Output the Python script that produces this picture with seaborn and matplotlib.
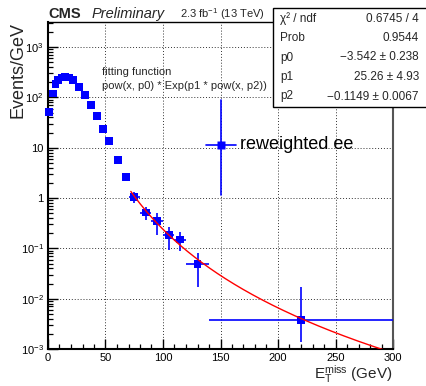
import numpy as np
import matplotlib
matplotlib.use("Agg")
import matplotlib.pyplot as plt
import matplotlib.ticker as mticker
from matplotlib.patches import Rectangle
import seaborn as sns
import pandas as pd

# ---------------- data ----------------
met_x = [0.5, 4, 6.5, 9, 12, 15, 18, 22, 27, 32.5, 37.5, 42.5, 47.5, 53, 60.5, 67.5,
         75, 85, 95, 105, 115, 130, 220]
events = [51, 120, 184, 221, 250, 252, 250, 221, 163, 113, 70, 42, 24, 13.5, 5.7, 2.63,
          1.06, 0.516, 0.347, 0.182, 0.150, 0.048, 0.0037]
x_err = [0] * 16 + [5, 5, 5, 5, 5, 10, 80]
y_err_low = [0] * 16 + [0.26, 0.15, 0.16, 0.09, 0.06, 0.031, 0.0023]
y_err_high = [0] * 16 + [0.27, 0.15, 0.16, 0.09, 0.063, 0.032, 0.013]

# fit parameters (from stat box)
p0, p1, p2 = -3.542, 25.26, -0.1149
fit_range = (72, 300)

stat_labels = ["χ² / ndf", "Prob", "p0", "p1", "p2"]
stat_values = ["0.6745 / 4", "0.9544", "−3.542 ± 0.238", "25.26 ± 4.93", "−0.1149 ± 0.0067"]

x_ticks = [0, 50, 100, 150, 200, 250, 300]

# ---------------- style ----------------
sns.set_theme(style="white")
plt.rcParams['font.family'] = ['Liberation Sans', 'DejaVu Sans']
plt.rcParams['mathtext.fontset'] = 'custom'
plt.rcParams['mathtext.rm'] = 'Liberation Sans'
plt.rcParams['mathtext.it'] = 'Liberation Sans:italic'
plt.rcParams['mathtext.bf'] = 'Liberation Sans:bold'

W, H = 427, 386
fig = plt.figure(figsize=(W / 100, H / 100), dpi=100)
fig.patch.set_facecolor('white')
L, R, T, B = 48, 393, 22, 349
ax = fig.add_axes([L / W, 1 - B / H, (R - L) / W, (B - T) / H])
ax.set_facecolor('white')

df = pd.DataFrame({"met": met_x, "ev": events})

ax.errorbar(met_x, events, xerr=x_err, yerr=[y_err_low, y_err_high], fmt='none',
            ecolor='blue', elinewidth=1.2, capsize=0, zorder=3, clip_on=False)
sns.scatterplot(data=df, x="met", y="ev", marker='s', s=32, color='blue',
                edgecolor='none', linewidth=0, ax=ax, zorder=4, clip_on=False)

xf = np.linspace(fit_range[0], fit_range[1], 300)
yf = np.power(xf, p0) * np.exp(p1 * np.power(xf, p2))
sns.lineplot(x=xf, y=yf, color='red', linewidth=1.0, ax=ax, zorder=5)

ax.set_yscale('log')
ax.set_xlim(0, 300)
ax.set_ylim(1e-3, 10 ** 3.5)
ax.set_xlabel('')
ax.set_ylabel('')

ax.xaxis.set_major_locator(mticker.FixedLocator(x_ticks))
ax.xaxis.set_minor_locator(mticker.MultipleLocator(10))
ax.yaxis.set_major_locator(mticker.LogLocator(base=10, numticks=20))
ax.yaxis.set_minor_locator(mticker.LogLocator(base=10, subs=np.arange(2, 10), numticks=20))


def yfmt(v, pos):
    e = int(round(np.log10(v)))
    if e == 0:
        return "1"
    if e == 1:
        return "10"
    return r"$10^{%d}$" % e


ax.yaxis.set_major_formatter(mticker.FuncFormatter(yfmt))
ax.yaxis.set_minor_formatter(mticker.NullFormatter())
ax.tick_params(axis='both', which='major', direction='in', length=7, width=1.0,
               labelsize=8, color='black', labelcolor='black',
               bottom=True, left=True, top=False, right=False)
ax.tick_params(axis='both', which='minor', direction='in', length=3.5, width=0.9,
               color='black', bottom=True, left=True, top=False, right=False)
ax.tick_params(axis='x', which='major', pad=3)
ax.tick_params(axis='y', which='major', pad=3)

ax.grid(True, which='major', linestyle=(0, (1, 2)), color='#333333', linewidth=0.7)
for s in ['left', 'bottom', 'top']:
    ax.spines[s].set_color('black')
    ax.spines[s].set_linewidth(1.5)
ax.spines['right'].set_color('#555555')
ax.spines['right'].set_linewidth(1.5)
ax.spines['top'].set_linewidth(1.0)

# legend-like symbol (axes coords)
lx, ly = 0.501, 0.624
ax.plot([lx - 0.0435, lx + 0.0435], [ly, ly], color='blue', lw=1.2, transform=ax.transAxes, zorder=6)
ax.plot([lx, lx], [0.471, 0.761], color='blue', lw=1.2, transform=ax.transAxes, zorder=6)
ax.plot([lx], [ly], marker='s', ms=5.6, color='blue', mec='none', transform=ax.transAxes, zorder=7)
ax.text(0.557, ly, 'reweighted ee', transform=ax.transAxes, fontsize=13,
        ha='left', va='center', color='black', zorder=7)


def fx(px):
    return px / W


def fy(py):
    return 1 - py / H


# header texts
fig.text(fx(48), fy(18), 'CMS', fontsize=10.5, fontweight='bold', ha='left', va='baseline')
fig.text(fx(92), fy(18), 'Preliminary', fontsize=10.5, style='italic', ha='left', va='baseline')
fig.text(fx(180), fy(18), r'2.3 fb$^{-1}$ (13 TeV)', fontsize=8, ha='left', va='baseline')

# fitting function
fig.text(fx(102), fy(72), 'fitting function', fontsize=8, ha='left', va='center')
fig.text(fx(102), fy(86), 'pow(x, p0) * Exp(p1 * pow(x, p2))', fontsize=8, ha='left', va='center')

# axis titles
fig.text(fx(18), fy(22), 'Events/GeV', fontsize=13, rotation=90, ha='center', va='top')
fig.text(fx(393), fy(379), r'E$_{\rm T}^{\rm miss}$ (GeV)', fontsize=11, ha='right', va='baseline')

# stat box
fig.patches.append(Rectangle((fx(273), fy(107)), (427 - 273) / W, (107 - 8) / H,
                             transform=fig.transFigure, facecolor='white',
                             edgecolor='black', linewidth=1.0, zorder=10))
row_y = [18.5, 38, 57.5, 77, 96.5]
for lab, val, yy in zip(stat_labels, stat_values, row_y):
    fig.text(fx(280), fy(yy), lab, fontsize=8.5, ha='left', va='center', zorder=11)
    fig.text(fx(419), fy(yy), val, fontsize=8.5, ha='right', va='center', zorder=11)

fig.savefig('out.png', dpi=100, facecolor='white')
